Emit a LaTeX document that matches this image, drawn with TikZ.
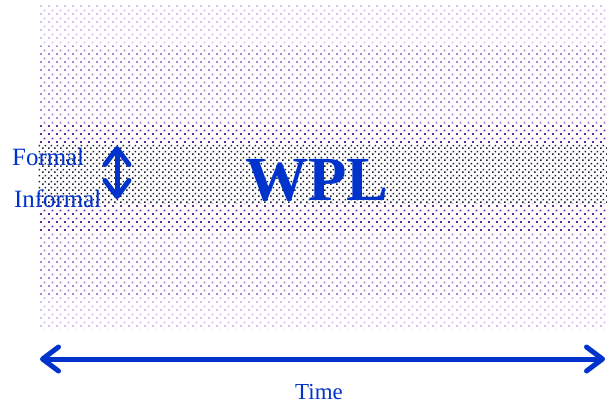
\documentclass[tikz,border=0pt]{standalone}
\usepackage{fontspec}
\setmainfont{Liberation Serif}
\usetikzlibrary{patterns,arrows.meta}

% staggered square-dot lattice, 8bp tile
\pgfdeclarepatternformonly{sqdots}{\pgfqpoint{0bp}{0bp}}{\pgfqpoint{8bp}{8bp}}{\pgfqpoint{8bp}{8bp}}{%
  \pgfpathrectangle{\pgfqpoint{0bp}{0bp}}{\pgfqpoint{2bp}{2bp}}%
  \pgfpathrectangle{\pgfqpoint{4bp}{4bp}}{\pgfqpoint{2bp}{2bp}}%
  \pgfusepath{fill}}
% finer lattice for the core band
\pgfdeclarepatternformonly{finedots}{\pgfqpoint{0bp}{0bp}}{\pgfqpoint{6bp}{6bp}}{\pgfqpoint{6bp}{6bp}}{%
  \pgfpathrectangle{\pgfqpoint{0bp}{0bp}}{\pgfqpoint{1.8bp}{1.8bp}}%
  \pgfpathrectangle{\pgfqpoint{3bp}{3bp}}{\pgfqpoint{1.8bp}{1.8bp}}%
  \pgfusepath{fill}}

\definecolor{wplblue}{RGB}{0,51,204}
\definecolor{lav}{RGB}{216,190,240}
\definecolor{midpurple}{RGB}{180,128,222}
\definecolor{deeppurple}{RGB}{104,40,160}
\definecolor{dotink}{RGB}{35,25,45}

\tikzset{
  band/.style={preaction={fill=white}, pattern=#1},
  label/.style={text=wplblue, font=\fontsize{25}{28}\selectfont, inner sep=0pt},
  bigarrow/.style={draw=wplblue, line width=5bp,
    {Straight Barb[round,length=16bp,width=24bp]}-{Straight Barb[round,length=16bp,width=24bp]}}
}

\begin{document}
\begin{tikzpicture}[x=1bp,y=-1bp]
  \useasboundingbox (0,0) rectangle (607,406);

  % nested dotted bands, outer to inner
  \fill[band=sqdots, pattern color=lav] (38,5) rectangle (607,329);
  \fill[band=sqdots, pattern color=midpurple] (38,46) rectangle (607,297);
  \fill[band=sqdots, pattern color=deeppurple] (38,123) rectangle (607,231);
  \fill[band=finedots, pattern color=dotink] (38,143) rectangle (607,203);

  % labels
  \node[label, anchor=base west] (formal) at (12,165) {Formal};
  \node[label, anchor=base west] (informal) at (14,207) {Informal};
  \node[text=wplblue, inner sep=0pt, anchor=base,
        font=\fontsize{63}{70}\selectfont\bfseries] (wpl) at (317,200) {WPL};
  \node[text=wplblue, inner sep=0pt, anchor=base,
        font=\fontsize{23}{26}\selectfont] (time) at (319,399) {Time};

  % formality arrow
  \coordinate (ftop) at (117,146);
  \coordinate (fbot) at (117,199);
  \draw[bigarrow] (ftop) -- (fbot);

  % time axis
  \coordinate (tstart) at (40,359);
  \coordinate (tend) at (605,359);
  \draw[bigarrow] (tstart) -- (tend);
\end{tikzpicture}
\end{document}
